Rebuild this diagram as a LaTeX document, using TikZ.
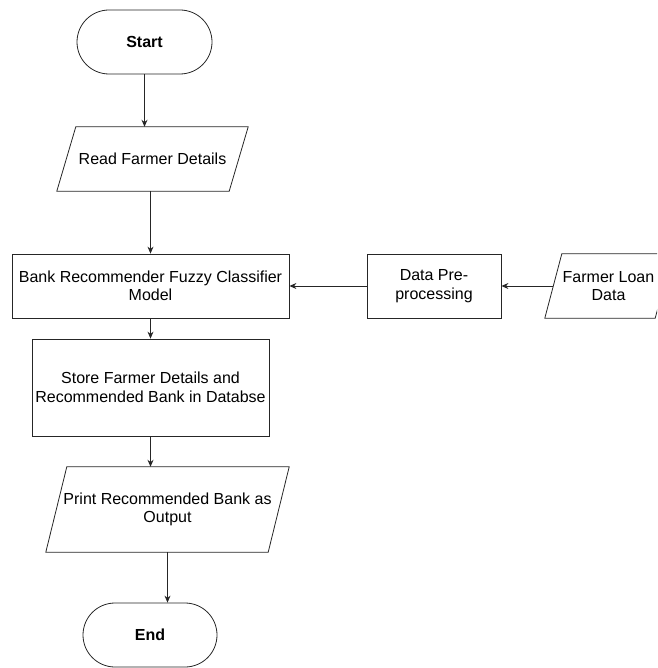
\documentclass[tikz,border=0pt]{standalone}
\usepackage{fontspec}
\setmainfont{Liberation Sans}
\usepackage{tikz}
\usetikzlibrary{shapes.misc,arrows.meta}

\tikzset{
	flow/.style={draw=black!85, line width=0.9pt, -{Stealth[length=7pt,width=6pt]}},
	termbox/.style={shape=rounded rectangle, draw=black!85, line width=0.8pt, minimum height=64pt, inner sep=0pt, font=\fontsize{16}{18.5}\selectfont\bfseries},
	procbox/.style={shape=rectangle, draw=black!85, line width=0.8pt, inner sep=0pt, align=center, font=\fontsize{16}{18.5}\selectfont},
	iotext/.style={shape=rectangle, inner sep=0pt, align=center, font=\fontsize{16}{18.5}\selectfont},
	ioline/.style={draw=black!85, line width=0.8pt, line join=miter}
}
% parallelogram round an iotext node: #1 node name, #2 slant
\newcommand{\ioframe}[2]{\draw[ioline] ([xshift=#2pt]#1.north west) -- (#1.north east) -- ([xshift=-#2pt]#1.south east) -- (#1.south west) -- cycle;}

\begin{document}
\begin{tikzpicture}[x=1pt, y=-1pt]
	\clip (0, 0) rectangle (657, 668);
	% Nodes:
	\node[termbox, minimum width=135pt] (Term1) at (144.5, 42) {Start};
	\node[iotext, minimum width=191pt, minimum height=64pt] (Para1) at (152.5, 159) {Read Farmer Details};
	\node[procbox, minimum width=277pt, minimum height=64pt] (Rect1) at (150.5, 286) {Bank Recommender Fuzzy Classifier\\Model};
	\node[procbox, minimum width=134pt, minimum height=64pt] (Rect2) at (434, 286) {Data Pre-\\processing};
	\node[iotext, minimum width=127pt, minimum height=64pt] (Para2) at (608.5, 286) {Farmer Loan\\Data};
	\node[procbox, minimum width=237pt, minimum height=97pt] (Rect3) at (150.5, 387.5) {Store Farmer Details and\\Recommended Bank in Databse};
	\node[iotext, minimum width=243pt, minimum height=85pt] (Para3) at (167.5, 509.5) {Print Recommended Bank as\\Output};
	\node[termbox, minimum width=134pt] (Term2) at (150, 635) {End};
	\ioframe{Para1}{19}
	\ioframe{Para2}{17}
	\ioframe{Para3}{21}
	% Connectors:
	\draw[flow] (Term1.south) -- (Term1.south |- Para1.north);
	\draw[flow] (Rect1.north |- Para1.south) -- (Rect1.north);
	\draw[flow] ([xshift=8.5pt]Para2.west) -- (Rect2.east);
	\draw[flow] (Rect2.west) -- (Rect1.east);
	\draw[flow] (Rect1.south) -- (Rect3.north);
	\draw[flow] (Rect3.south) -- (Rect3.south |- Para3.north);
	\draw[flow] (Para3.south) -- (Para3.south |- Term2.north);
\end{tikzpicture}
\end{document}
